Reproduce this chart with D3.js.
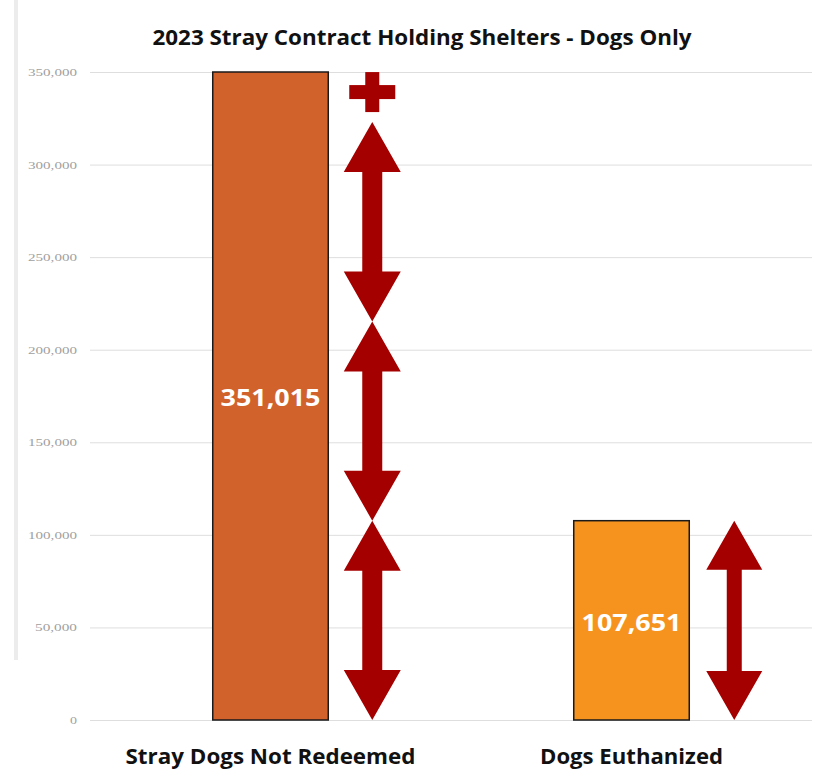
<html>
<script src="https://d3js.org/d3.v7.min.js"></script>
<style>
  body { margin:0; background:#fff; }
  svg text { font-family: "Open Sans", "Noto Sans", sans-serif; }
</style>
<body>
<svg id="chart"></svg>
<script>

// chart data
var categories = ["Stray Dogs Not Redeemed", "Dogs Euthanized"];
var values = [351015, 107651];
var valueLabels = ["351,015", "107,651"];
var barColors = ["#d2622c", "#f6931f"];
var tickValues = [0, 50000, 100000, 150000, 200000, 250000, 300000, 350000];
var title = "2023 Stray Contract Holding Shelters - Dogs Only";

var screen = {width:828, height:779};
var plot = {left:90, right:812, top:72, bottom:720};

var svg = d3.select("#chart")
    .attr("width", screen.width)
    .attr("height", screen.height);

// faint left edge from the screenshot
svg.append("line")
    .attr("x1",16).attr("x2",16)
    .attr("y1",0).attr("y2",660)
    .attr("stroke","#ececec")
    .attr("stroke-width",4);

var yScale = d3.scaleLinear()
    .domain([0, 350000])
    .range([plot.bottom, plot.top]);

var xScale = d3.scaleBand()
    .domain(categories)
    .range([plot.left, plot.right])
    .paddingInner(0.68)
    .paddingOuter(0.34);

// axis + gridlines
var fmt = d3.format(",");
var yAxis = d3.axisLeft(yScale)
    .tickValues(tickValues)
    .tickFormat(fmt)
    .tickSizeInner(-(plot.right - plot.left))
    .tickSizeOuter(0)
    .tickPadding(13);

var axisG = svg.append("g")
    .attr("transform","translate("+plot.left+",0)")
    .call(yAxis);
axisG.select(".domain").remove();
axisG.selectAll(".tick line")
    .attr("stroke","#dedede")
    .attr("stroke-width",1);
axisG.selectAll(".tick text")
    .attr("fill","#a0a0a0")
    .style("font-family","'Liberation Serif', serif")
    .style("font-size","11px")
    .attr("textLength", function(d){ return fmt(d).length * 7; })
    .attr("lengthAdjust","spacingAndGlyphs");

// bars
svg.append("g")
    .selectAll("rect")
    .data(values)
    .enter()
    .append("rect")
    .attr("x", function(d,i){ return xScale(categories[i]); })
    .attr("y", function(d){ return yScale(Math.min(d, yScale.domain()[1])); })
    .attr("width", xScale.bandwidth())
    .attr("height", function(d){ return plot.bottom - yScale(Math.min(d, yScale.domain()[1])); })
    .attr("fill", function(d,i){ return barColors[i]; })
    .attr("stroke","#1a1a1a")
    .attr("stroke-width",1.5);

// value labels inside bars
svg.append("g")
    .selectAll("text")
    .data(values)
    .enter()
    .append("text")
    .attr("x", function(d,i){ return xScale(categories[i]) + xScale.bandwidth()/2; })
    .attr("y", function(d,i){ return i == 0 ? 406 : 631; })
    .attr("text-anchor","middle")
    .attr("fill","#fff")
    .style("font-size","24px")
    .style("font-weight","bold")
    .attr("textLength",100)
    .attr("lengthAdjust","spacingAndGlyphs")
    .text(function(d,i){ return valueLabels[i]; });

// double arrows: each one spans the euthanized count
var arrowColor = "#a50000";
var unit = values[1];

var doubleArrow = function(cx, lo, hi, headW, headL, shaftW)
{
    var yLo = yScale(lo), yHi = yScale(hi);
    var p = d3.path();
    p.moveTo(cx, yHi);
    p.lineTo(cx + headW/2, yHi + headL);
    p.lineTo(cx + shaftW/2, yHi + headL);
    p.lineTo(cx + shaftW/2, yLo - headL);
    p.lineTo(cx + headW/2, yLo - headL);
    p.lineTo(cx, yLo);
    p.lineTo(cx - headW/2, yLo - headL);
    p.lineTo(cx - shaftW/2, yLo - headL);
    p.lineTo(cx - shaftW/2, yHi + headL);
    p.lineTo(cx - headW/2, yHi + headL);
    p.closePath();
    svg.append("path")
        .attr("d", p.toString())
        .attr("fill", arrowColor);
}

var leftX = xScale(categories[0]) + xScale.bandwidth() + 44;
var rightX = xScale(categories[1]) + xScale.bandwidth() + 45;

var stacks = Math.floor(values[0] / unit);
for (var k = 0; k < stacks; k++)
{
    doubleArrow(leftX, k*unit, (k+1)*unit, 57, 50, 20);
}
doubleArrow(rightX, 0, unit, 56, 49, 15);

// plus sign for the remainder
var plusY = yScale(stacks*unit) - 30;
svg.append("rect")
    .attr("x", leftX - 23).attr("y", plusY - 7)
    .attr("width", 46).attr("height", 14)
    .attr("fill", arrowColor);
svg.append("rect")
    .attr("x", leftX - 7).attr("y", plusY - 20)
    .attr("width", 14).attr("height", 40)
    .attr("fill", arrowColor);

// title
svg.append("text")
    .attr("x", 422)
    .attr("y", 45)
    .attr("text-anchor","middle")
    .attr("fill","#111")
    .style("font-size","21px")
    .style("font-weight","bold")
    .attr("textLength",539)
    .attr("lengthAdjust","spacingAndGlyphs")
    .text(title);

// category labels
var catWidths = [290, 183];
svg.append("g")
    .selectAll("text")
    .data(categories)
    .enter()
    .append("text")
    .attr("x", function(d){ return xScale(d) + xScale.bandwidth()/2; })
    .attr("y", 764)
    .attr("text-anchor","middle")
    .attr("fill","#111")
    .style("font-size","22px")
    .style("font-weight","bold")
    .attr("textLength", function(d,i){ return catWidths[i]; })
    .attr("lengthAdjust","spacingAndGlyphs")
    .text(function(d){ return d; });

</script>
</body>
</html>
